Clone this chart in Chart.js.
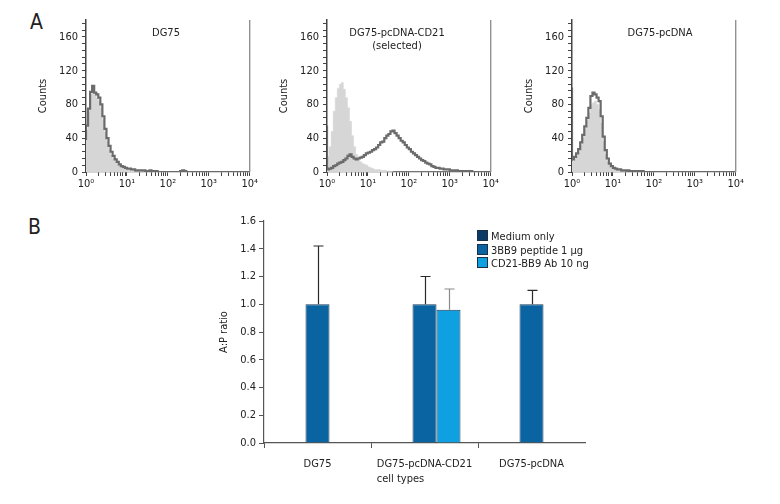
<!DOCTYPE html>
<html>
<head>
<meta charset="utf-8">
<script src="https://cdn.jsdelivr.net/npm/chart.js@4"></script>
<style>
  body { margin: 0; background: #fff; width: 780px; height: 504px; position: relative; overflow: hidden;
         font-family: 'Liberation Sans Narrow', 'DejaVu Sans Condensed', sans-serif; color: #222; }
  canvas { position: absolute; }
  .panel { position: absolute; font-size: 21px; }
  #legend { position: absolute; left: 477px; top: 230px; font-size: 11px; }
  #legend div { height: 13.7px; line-height: 13.7px; white-space: nowrap; }
  #legend span { display: inline-block; width: 9px; height: 9px; border: 1px solid #1d2f45; vertical-align: -1px; margin-right: 3px; }
</style>
</head>
<body>
<div class="panel" style="left:30px;top:10px">A</div>
<div class="panel" style="left:28px;top:215px">B</div>
<canvas id="histA1" width="260" height="200" style="left:0;top:0"></canvas>
<canvas id="histA2" width="260" height="200" style="left:241px;top:0"></canvas>
<canvas id="histA3" width="260" height="200" style="left:486px;top:0"></canvas>
<canvas id="barB" width="400" height="295" style="left:200px;top:205px"></canvas>
<div id="legend"></div>
<script>
// ---- Panel A: flow histograms, one bin every 0.05 decade from 10^0 to 10^4 ----
const channels = Array.from({ length: 81 }, (_, i) => Math.pow(10, i * 0.05));

const dg75Control = [
  118, 50, 72, 92, 98, 92, 88, 84, 76, 62,
  47, 36, 27, 20, 16, 12, 9, 7, 5, 4,
  3, 3, 2, 2, 2, 1, 1, 1, 1, 1,
  1, 1, 1, 1, 0, 0, 0, 0, 0, 0,
  0, 0, 0, 0, 0, 0, 0, 0, 0, 0,
  0, 0, 0, 0, 0, 0, 0, 0, 0, 0,
  0, 0, 0, 0, 0, 0, 0, 0, 0, 0,
  0, 0, 0, 0, 0, 0, 0, 0, 0, 0,
  0];
const dg75Stained = [
  38, 55, 75, 95, 102, 94, 92, 88, 80, 66,
  51, 40, 31, 24, 19, 15, 12, 9, 7, 6,
  5, 4, 4, 3, 3, 2, 2, 2, 2, 2,
  1, 1, 2, 1, 1, 1, 0, 0, 0, 0,
  0, 0, 0, 0, 0, 0, 0, 1, 2, 1,
  0, 0, 0, 0, 0, 0, 0, 0, 0, 0,
  0, 0, 0, 0, 0, 0, 0, 0, 0, 0,
  0, 0, 0, 0, 0, 0, 0, 0, 0, 0,
  0];

const cd21Control = [
  5, 18, 30, 48, 72, 88, 99, 104, 106, 98,
  88, 76, 60, 43, 30, 21, 15, 12, 10, 9,
  8, 6, 5, 4, 3, 3, 3, 2, 2, 2,
  1, 1, 1, 0, 0, 0, 0, 0, 0, 0,
  0, 0, 0, 0, 0, 0, 0, 0, 0, 0,
  0, 0, 0, 0, 0, 0, 0, 0, 0, 0,
  0, 0, 0, 0, 0, 0, 0, 0, 0, 0,
  0, 0, 0, 0, 0, 0, 0, 0, 0, 0,
  0];
const cd21Stained = [
  55, 3, 4, 5, 7, 8, 10, 11, 12, 14,
  16, 19, 21, 18, 16, 15, 16, 17, 18, 20,
  22, 23, 24, 26, 27, 29, 32, 35, 36, 40,
  43, 45, 48, 49, 46, 43, 40, 37, 35, 32,
  29, 27, 24, 22, 20, 18, 16, 14, 13, 11,
  10, 9, 7, 6, 5, 5, 4, 4, 3, 3,
  3, 2, 2, 2, 2, 1, 1, 1, 1, 1,
  1, 1, 0, 0, 0, 0, 0, 0, 0, 0,
  0];

const pcdnaControl = [
  8, 12, 15, 19, 24, 32, 41, 51, 61, 70,
  80, 82, 84, 80, 74, 58, 36, 21, 12, 8,
  5, 4, 3, 2, 2, 1, 1, 0, 0, 0,
  0, 0, 0, 0, 0, 0, 0, 0, 0, 0,
  0, 0, 0, 0, 0, 0, 0, 0, 0, 0,
  0, 0, 0, 0, 0, 0, 0, 0, 0, 0,
  0, 0, 0, 0, 0, 0, 0, 0, 0, 0,
  0, 0, 0, 0, 0, 0, 0, 0, 0, 0,
  0];
const pcdnaStained = [
  100, 15, 18, 22, 27, 35, 44, 54, 64, 76,
  90, 94, 92, 88, 84, 66, 42, 26, 16, 10,
  7, 5, 4, 3, 3, 2, 2, 2, 2, 1,
  1, 1, 1, 1, 1, 1, 0, 0, 0, 0,
  0, 0, 0, 0, 0, 0, 0, 0, 0, 0,
  0, 0, 0, 0, 0, 0, 0, 0, 0, 0,
  0, 0, 0, 0, 0, 0, 0, 0, 0, 0,
  0, 0, 0, 0, 0, 0, 0, 0, 0, 0,
  0];

const countTicks = [0, 40, 80, 120, 160];
const decadeLabels = ['10⁰', '10¹', '10²', '10³', '10⁴'];

// ---- Panel B: A:P ratio ----
const cellTypes = ['DG75', 'DG75-pcDNA-CD21', 'DG75-pcDNA'];
const treatments = ['Medium only', '3BB9 peptide 1 µg', 'CD21-BB9 Ab 10 ng'];
const mediumOnly = [null, null, null];
const peptide = [1.0, 1.0, 1.0];
const peptideErr = [0.42, 0.20, 0.10];
const antibody = [null, 0.96, null];
const antibodyErr = [null, 0.15, null];

const FONT = "'Liberation Sans Narrow', 'DejaVu Sans Condensed', sans-serif";
Chart.defaults.font.family = FONT;
Chart.defaults.font.size = 11;
Chart.defaults.color = '#222';

const toPoints = vals => vals.map((v, i) => ({ x: channels[i], y: v }));

// title inside the plot + right frame line
const histDecor = {
  id: 'histDecor',
  afterDraw(chart, args, opts) {
    const { ctx, chartArea: a } = chart;
    ctx.save();
    ctx.strokeStyle = '#8a8a8a';
    ctx.lineWidth = 1.3;
    ctx.beginPath();
    ctx.moveTo(a.right, a.top);
    ctx.lineTo(a.right, a.bottom);
    ctx.stroke();
    ctx.fillStyle = '#222';
    ctx.font = '11px ' + FONT;
    ctx.textAlign = 'center';
    ctx.textBaseline = 'middle';
    opts.lines.forEach((t, i) => ctx.fillText(t, a.left + opts.dx, 33 + i * 13));
    ctx.restore();
  }
};

function makeHist(id, control, stained, titleLines, dx, rightPad) {
  new Chart(document.getElementById(id), {
    type: 'line',
    data: {
      datasets: [
        { data: toPoints(stained), stepped: 'after', borderColor: '#6b6b6b', borderWidth: 2.2, pointRadius: 0, fill: false },
        { data: toPoints(control), stepped: 'after', borderColor: '#d6d6d6', borderWidth: 0.5, backgroundColor: '#d6d6d6', pointRadius: 0, fill: 'origin' }
      ]
    },
    options: {
      responsive: false,
      animation: false,
      layout: { padding: { top: 20, right: rightPad, left: 0, bottom: 0 } },
      plugins: { legend: { display: false }, tooltip: { enabled: false }, histDecor: { lines: titleLines, dx: dx } },
      scales: {
        x: {
          type: 'logarithmic', min: 1, max: 10000,
          afterBuildTicks: s => {
            const t = [];
            for (let n = 0; n < 4; n++) for (let k = 1; k < 10; k++) t.push({ value: k * Math.pow(10, n) });
            t.push({ value: 10000 });
            s.ticks = t;
          },
          afterFit: s => { s.height = 28; },
          ticks: {
            autoSkip: false, maxRotation: 0, padding: 2,
            callback: v => {
              const p = Math.round(Math.log10(v));
              return Math.abs(Math.pow(10, p) - v) < 1e-6 ? decadeLabels[p] : '';
            }
          },
          grid: { drawOnChartArea: false, tickLength: 4, tickColor: '#444' },
          border: { color: '#555', width: 1.3 }
        },
        y: {
          min: 0, max: 180,
          afterBuildTicks: s => {
            const t = [];
            for (let v = 0; v <= 176; v += 8) t.push({ value: v });
            s.ticks = t;
          },
          afterFit: s => { s.width = 86; },
          ticks: { autoSkip: false, padding: 4, callback: v => countTicks.includes(v) ? v : '' },
          grid: { drawOnChartArea: false, tickLength: 4, tickColor: '#444' },
          border: { color: '#444', width: 1.5 },
          title: { display: true, text: 'Counts', padding: { top: 37, bottom: 0 }, font: { size: 11 } }
        }
      }
    },
    plugins: [histDecor]
  });
}

makeHist('histA1', dg75Control, dg75Stained, ['DG75'], 80, 6);
makeHist('histA2', cd21Control, cd21Stained, ['DG75-pcDNA-CD21', '(selected)'], 70, 5);
makeHist('histA3', pcdnaControl, pcdnaStained, ['DG75-pcDNA'], 88, 5);

// ---- Panel B ----
const barColors = ['#0b3a66', '#0a64a2', '#0ea0e0'];

const errorBars = {
  id: 'errorBars',
  afterDatasetsDraw(chart) {
    const { ctx, scales: { x, y } } = chart;
    chart.data.datasets.forEach((ds, di) => {
      if (!ds.errors) return;
      chart.getDatasetMeta(di).data.forEach((bar, i) => {
        const v = ds.data[i], e = ds.errors[i];
        if (v == null || e == null) return;
        const top = y.getPixelForValue(v + e);
        const cx = Math.round(bar.x) + 0.5;
        ctx.save();
        ctx.strokeStyle = ds.errorColor;
        ctx.lineWidth = 1.2;
        ctx.beginPath();
        ctx.moveTo(cx, bar.y);
        ctx.lineTo(cx, top);
        ctx.moveTo(cx - 5, top);
        ctx.lineTo(cx + 5, top);
        ctx.stroke();
        ctx.restore();
      });
    });
    // axis title, left aligned with the middle category label
    ctx.save();
    ctx.font = '11px ' + FONT;
    ctx.fillStyle = '#222';
    ctx.textBaseline = 'middle';
    const lw = ctx.measureText(cellTypes[1]).width;
    ctx.fillText('cell types', x.getPixelForValue(1) - lw / 2, 274);
    ctx.restore();
  }
};

new Chart(document.getElementById('barB'), {
  type: 'bar',
  data: {
    labels: cellTypes,
    datasets: [
      { label: treatments[0], data: mediumOnly, backgroundColor: barColors[0] },
      { label: treatments[1], data: peptide, errors: peptideErr, errorColor: '#2a2a2a', backgroundColor: barColors[1] },
      { label: treatments[2], data: antibody, errors: antibodyErr, errorColor: '#8a8a8a', backgroundColor: barColors[2] }
    ]
  },
  options: {
    responsive: false,
    animation: false,
    skipNull: false,
    datasets: { bar: { categoryPercentage: 0.673, barPercentage: 1.0, borderWidth: 1, borderColor: '#1d3c5a' } },
    layout: { padding: { top: 16, right: 15, left: 0, bottom: 0 } },
    plugins: { legend: { display: false }, tooltip: { enabled: false } },
    scales: {
      x: {
        afterFit: s => { s.height = 57; },
        ticks: { padding: 10, maxRotation: 0, autoSkip: false },
        // no tick mark at the far right end, as in the original
        grid: { drawOnChartArea: false, tickLength: 5, tickColor: c => c.type === 'tick' ? '#555' : 'rgba(0,0,0,0)' },
        border: { color: '#555', width: 1.2 }
      },
      y: {
        min: 0, max: 1.6,
        afterFit: s => { s.width = 64; },
        ticks: { stepSize: 0.2, padding: 3, callback: v => v.toFixed(1) },
        grid: { drawOnChartArea: false, tickLength: 5, tickColor: '#555' },
        border: { color: '#555', width: 1.2 },
        title: { display: true, text: 'A:P ratio', padding: { top: 18, bottom: 0 }, font: { size: 11 } }
      }
    }
  },
  plugins: [errorBars]
});

const legend = document.getElementById('legend');
treatments.forEach((t, i) => {
  const row = document.createElement('div');
  row.innerHTML = `<span style="background:${barColors[i]}"></span>${t}`;
  legend.appendChild(row);
});
</script>
</body>
</html>
